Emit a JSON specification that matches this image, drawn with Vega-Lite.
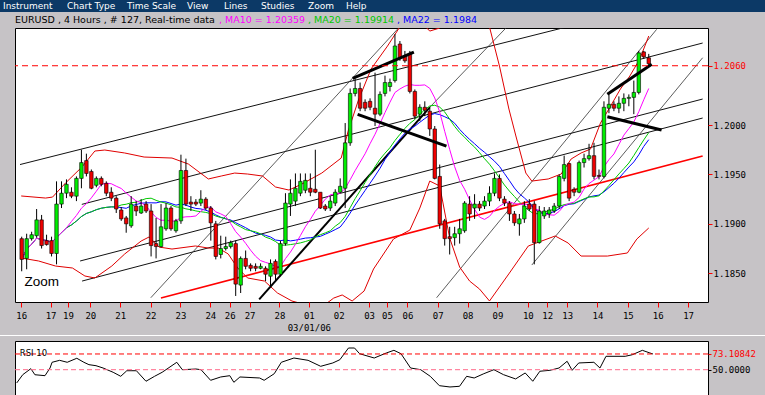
{
  "$schema": "https://vega.github.io/schema/vega-lite/v6.json",
  "background": "#c6c3c6",
  "padding": {"left": 0, "top": 0, "right": 0, "bottom": 3},
  "spacing": 0,
  "config": {"view": {"stroke": null}, "concat": {"spacing": 0}},
  "datasets": {
    "menu": [
      {"item": "Instrument", "n": 0}, {"item": "Chart Type", "n": 1}, {"item": "Time Scale", "n": 2}, {"item": "View", "n": 3},
      {"item": "Lines", "n": 4}, {"item": "Studies", "n": 5}, {"item": "Zoom", "n": 6}, {"item": "Help", "n": 7}
    ],
    "header": [
      {"part": "info", "label": "EURUSD , 4 Hours , # 127, Real-time data"},
      {"part": "MA10", "label": ", MA10 = 1.20359"},
      {"part": "MA20", "label": ", MA20 = 1.19914"},
      {"part": "MA22", "label": ", MA22 = 1.1984"}
    ],
    "levels": [
      {"panel": "price", "level": 1.206},
      {"panel": "rsi", "level": 73.10842},
      {"panel": "rsi", "level": 50}
    ],
    "candles": [
      {"i":0,"open":1.1885,"high":1.1887,"low":1.1852,"close":1.1864},
      {"i":1,"open":1.1865,"high":1.1890,"low":1.1854,"close":1.1885},
      {"i":2,"open":1.1885,"high":1.1892,"low":1.1883,"close":1.1889},
      {"i":3,"open":1.1888,"high":1.1915,"low":1.1886,"close":1.1904},
      {"i":4,"open":1.1904,"high":1.1909,"low":1.1875,"close":1.1878},
      {"i":5,"open":1.1883,"high":1.1889,"low":1.1878,"close":1.1879},
      {"i":6,"open":1.1883,"high":1.1887,"low":1.1867,"close":1.1870},
      {"i":7,"open":1.1870,"high":1.1943,"low":1.1859,"close":1.1920},
      {"i":8,"open":1.1920,"high":1.1943,"low":1.1916,"close":1.1931},
      {"i":9,"open":1.1931,"high":1.1945,"low":1.1926,"close":1.1940},
      {"i":10,"open":1.1932,"high":1.1937,"low":1.1926,"close":1.1928},
      {"i":11,"open":1.1928,"high":1.1948,"low":1.1923,"close":1.1946},
      {"i":12,"open":1.1946,"high":1.1975,"low":1.1936,"close":1.1962},
      {"i":13,"open":1.1964,"high":1.1971,"low":1.1948,"close":1.1951},
      {"i":14,"open":1.1953,"high":1.1955,"low":1.1935,"close":1.1936},
      {"i":15,"open":1.1939,"high":1.1948,"low":1.1937,"close":1.1946},
      {"i":16,"open":1.1946,"high":1.1948,"low":1.1938,"close":1.1940},
      {"i":17,"open":1.1941,"high":1.1943,"low":1.1928,"close":1.1931},
      {"i":18,"open":1.1932,"high":1.1937,"low":1.1923,"close":1.1926},
      {"i":19,"open":1.1926,"high":1.1928,"low":1.1911,"close":1.1915},
      {"i":20,"open":1.1914,"high":1.1917,"low":1.1903,"close":1.1905},
      {"i":21,"open":1.1906,"high":1.1908,"low":1.1891,"close":1.1900},
      {"i":22,"open":1.1898,"high":1.1928,"low":1.1896,"close":1.1920},
      {"i":23,"open":1.1918,"high":1.1923,"low":1.1908,"close":1.1913},
      {"i":24,"open":1.1911,"high":1.1925,"low":1.1910,"close":1.1918},
      {"i":25,"open":1.1920,"high":1.1923,"low":1.1911,"close":1.1913},
      {"i":26,"open":1.1913,"high":1.1920,"low":1.1867,"close":1.1878},
      {"i":27,"open":1.1880,"high":1.1906,"low":1.1865,"close":1.1877},
      {"i":28,"open":1.1877,"high":1.1920,"low":1.1876,"close":1.1897},
      {"i":29,"open":1.1895,"high":1.1921,"low":1.1893,"close":1.1916},
      {"i":30,"open":1.1916,"high":1.1918,"low":1.1893,"close":1.1895},
      {"i":31,"open":1.1893,"high":1.1905,"low":1.1891,"close":1.1903},
      {"i":32,"open":1.1903,"high":1.1970,"low":1.1900,"close":1.1954},
      {"i":33,"open":1.1954,"high":1.1966,"low":1.1918,"close":1.1920},
      {"i":34,"open":1.1922,"high":1.1928,"low":1.1913,"close":1.1920},
      {"i":35,"open":1.1922,"high":1.1925,"low":1.1918,"close":1.1920},
      {"i":36,"open":1.1921,"high":1.1934,"low":1.1918,"close":1.1925},
      {"i":37,"open":1.1925,"high":1.1927,"low":1.1914,"close":1.1916},
      {"i":38,"open":1.1916,"high":1.1918,"low":1.1883,"close":1.1901},
      {"i":39,"open":1.1900,"high":1.1903,"low":1.1864,"close":1.1867},
      {"i":40,"open":1.1869,"high":1.1888,"low":1.1865,"close":1.1875},
      {"i":41,"open":1.1875,"high":1.1887,"low":1.1873,"close":1.1877},
      {"i":42,"open":1.1877,"high":1.1883,"low":1.1875,"close":1.1881},
      {"i":43,"open":1.1880,"high":1.1883,"low":1.1827,"close":1.1839},
      {"i":44,"open":1.1838,"high":1.1867,"low":1.1830,"close":1.1865},
      {"i":45,"open":1.1865,"high":1.1873,"low":1.1854,"close":1.1857},
      {"i":46,"open":1.1858,"high":1.1860,"low":1.1852,"close":1.1855},
      {"i":47,"open":1.1857,"high":1.1860,"low":1.1852,"close":1.1855},
      {"i":48,"open":1.1855,"high":1.1860,"low":1.1854,"close":1.1857},
      {"i":49,"open":1.1855,"high":1.1857,"low":1.1842,"close":1.1849},
      {"i":50,"open":1.1847,"high":1.1864,"low":1.1837,"close":1.1860},
      {"i":51,"open":1.1862,"high":1.1864,"low":1.1842,"close":1.1849},
      {"i":52,"open":1.1849,"high":1.1883,"low":1.1847,"close":1.1880},
      {"i":53,"open":1.1880,"high":1.1931,"low":1.1878,"close":1.1921},
      {"i":54,"open":1.1920,"high":1.1945,"low":1.1908,"close":1.1931},
      {"i":55,"open":1.1923,"high":1.1951,"low":1.1918,"close":1.1936},
      {"i":56,"open":1.1931,"high":1.1951,"low":1.1928,"close":1.1943},
      {"i":57,"open":1.1934,"high":1.1951,"low":1.1931,"close":1.1944},
      {"i":58,"open":1.1936,"high":1.1951,"low":1.1928,"close":1.1932},
      {"i":59,"open":1.1935,"high":1.1975,"low":1.1931,"close":1.1932},
      {"i":60,"open":1.1932,"high":1.1932,"low":1.1915,"close":1.1916},
      {"i":61,"open":1.1918,"high":1.1920,"low":1.1913,"close":1.1915},
      {"i":62,"open":1.1916,"high":1.1928,"low":1.1913,"close":1.1923},
      {"i":63,"open":1.1921,"high":1.1935,"low":1.1918,"close":1.1932},
      {"i":64,"open":1.1932,"high":1.1946,"low":1.1931,"close":1.1938},
      {"i":65,"open":1.1936,"high":1.2002,"low":1.1916,"close":1.1982},
      {"i":66,"open":1.1982,"high":1.2037,"low":1.1979,"close":1.2032},
      {"i":67,"open":1.2032,"high":1.2047,"low":1.2029,"close":1.2037},
      {"i":68,"open":1.2037,"high":1.2043,"low":1.2014,"close":1.2017},
      {"i":69,"open":1.2023,"high":1.2026,"low":1.2014,"close":1.2017},
      {"i":70,"open":1.2024,"high":1.2027,"low":1.2015,"close":1.2018},
      {"i":71,"open":1.2017,"high":1.2053,"low":1.1999,"close":1.2011},
      {"i":72,"open":1.2011,"high":1.2034,"low":1.2009,"close":1.2031},
      {"i":73,"open":1.2032,"high":1.2050,"low":1.2029,"close":1.2043},
      {"i":74,"open":1.2039,"high":1.2047,"low":1.2034,"close":1.2043},
      {"i":75,"open":1.2045,"high":1.2092,"low":1.2043,"close":1.2080},
      {"i":76,"open":1.2082,"high":1.2085,"low":1.2065,"close":1.2068},
      {"i":77,"open":1.2070,"high":1.2075,"low":1.2063,"close":1.2065},
      {"i":78,"open":1.2072,"high":1.2075,"low":1.2032,"close":1.2034},
      {"i":79,"open":1.2034,"high":1.2036,"low":1.2006,"close":1.2009},
      {"i":80,"open":1.2011,"high":1.2021,"low":1.2004,"close":1.2018},
      {"i":81,"open":1.2018,"high":1.2024,"low":1.2009,"close":1.2015},
      {"i":82,"open":1.2014,"high":1.2017,"low":1.1989,"close":1.1996},
      {"i":83,"open":1.1996,"high":1.1999,"low":1.1945,"close":1.1946},
      {"i":84,"open":1.1948,"high":1.1960,"low":1.1895,"close":1.1900},
      {"i":85,"open":1.1903,"high":1.1905,"low":1.1878,"close":1.1885},
      {"i":86,"open":1.1887,"high":1.1897,"low":1.1869,"close":1.1885},
      {"i":87,"open":1.1886,"high":1.1897,"low":1.1878,"close":1.1890},
      {"i":88,"open":1.1890,"high":1.1905,"low":1.1880,"close":1.1895},
      {"i":89,"open":1.1893,"high":1.1923,"low":1.1891,"close":1.1921},
      {"i":90,"open":1.1920,"high":1.1928,"low":1.1903,"close":1.1910},
      {"i":91,"open":1.1916,"high":1.1930,"low":1.1905,"close":1.1920},
      {"i":92,"open":1.1920,"high":1.1923,"low":1.1913,"close":1.1916},
      {"i":93,"open":1.1918,"high":1.1928,"low":1.1915,"close":1.1923},
      {"i":94,"open":1.1923,"high":1.1938,"low":1.1918,"close":1.1931},
      {"i":95,"open":1.1931,"high":1.1951,"low":1.1928,"close":1.1946},
      {"i":96,"open":1.1946,"high":1.1950,"low":1.1923,"close":1.1926},
      {"i":97,"open":1.1925,"high":1.1928,"low":1.1918,"close":1.1921},
      {"i":98,"open":1.1921,"high":1.1923,"low":1.1903,"close":1.1910},
      {"i":99,"open":1.1910,"high":1.1913,"low":1.1898,"close":1.1901},
      {"i":100,"open":1.1900,"high":1.1910,"low":1.1888,"close":1.1905},
      {"i":101,"open":1.1905,"high":1.1923,"low":1.1901,"close":1.1918},
      {"i":102,"open":1.1920,"high":1.1925,"low":1.1913,"close":1.1915},
      {"i":103,"open":1.1920,"high":1.1923,"low":1.1859,"close":1.1881},
      {"i":104,"open":1.1881,"high":1.1918,"low":1.1880,"close":1.1913},
      {"i":105,"open":1.1908,"high":1.1917,"low":1.1905,"close":1.1913},
      {"i":106,"open":1.1910,"high":1.1917,"low":1.1906,"close":1.1914},
      {"i":107,"open":1.1913,"high":1.1921,"low":1.1911,"close":1.1918},
      {"i":108,"open":1.1918,"high":1.1950,"low":1.1915,"close":1.1948},
      {"i":109,"open":1.1946,"high":1.1969,"low":1.1943,"close":1.1960},
      {"i":110,"open":1.1961,"high":1.1962,"low":1.1923,"close":1.1926},
      {"i":111,"open":1.1935,"high":1.1937,"low":1.1928,"close":1.1932},
      {"i":112,"open":1.1932,"high":1.1964,"low":1.1931,"close":1.1962},
      {"i":113,"open":1.1962,"high":1.1971,"low":1.1957,"close":1.1966},
      {"i":114,"open":1.1966,"high":1.1981,"low":1.1964,"close":1.1969},
      {"i":115,"open":1.1969,"high":1.1982,"low":1.1945,"close":1.1948},
      {"i":116,"open":1.1949,"high":1.1955,"low":1.1945,"close":1.1948},
      {"i":117,"open":1.1948,"high":1.2024,"low":1.1946,"close":1.2018},
      {"i":118,"open":1.2017,"high":1.2031,"low":1.2012,"close":1.2021},
      {"i":119,"open":1.2021,"high":1.2024,"low":1.2014,"close":1.2017},
      {"i":120,"open":1.2017,"high":1.2029,"low":1.2012,"close":1.2022},
      {"i":121,"open":1.2022,"high":1.2032,"low":1.2014,"close":1.2027},
      {"i":122,"open":1.2027,"high":1.2031,"low":1.2019,"close":1.2028},
      {"i":123,"open":1.2028,"high":1.2045,"low":1.2011,"close":1.2033},
      {"i":124,"open":1.2033,"high":1.2075,"low":1.2031,"close":1.2073},
      {"i":125,"open":1.2074,"high":1.2075,"low":1.2067,"close":1.2069},
      {"i":126,"open":1.2068,"high":1.2072,"low":1.2060,"close":1.2062}
    ],
    "bands": [
      {"band":"upper","i":-0.1,"price":1.19282},{"band":"upper","i":4.8,"price":1.19261},{"band":"upper","i":6.2,"price":1.19271},
      {"band":"upper","i":8.8,"price":1.19413},{"band":"upper","i":12.1,"price":1.19575},{"band":"upper","i":14.7,"price":1.19737},
      {"band":"upper","i":16.7,"price":1.19747},{"band":"upper","i":20.7,"price":1.19717},{"band":"upper","i":24.6,"price":1.19676},
      {"band":"upper","i":30.2,"price":1.19666},{"band":"upper","i":33.5,"price":1.19605},{"band":"upper","i":37.5,"price":1.19454},
      {"band":"upper","i":40.1,"price":1.19484},{"band":"upper","i":42.8,"price":1.19514},{"band":"upper","i":45.4,"price":1.19504},
      {"band":"upper","i":48.4,"price":1.19484},{"band":"upper","i":51,"price":1.19373},{"band":"upper","i":53.7,"price":1.19342},
      {"band":"upper","i":56.3,"price":1.19403},{"band":"upper","i":60.3,"price":1.19514},{"band":"upper","i":64.2,"price":1.19666},
      {"band":"upper","i":65.6,"price":1.19939},{"band":"upper","i":67.6,"price":1.20243},{"band":"upper","i":70.2,"price":1.20567},
      {"band":"upper","i":73.5,"price":1.20799},{"band":"upper","i":76.1,"price":1.21002},{"band":"upper","i":78.1,"price":1.21093},
      {"band":"upper","i":80,"price":1.21052},{"band":"upper","i":82,"price":1.20951},{"band":"upper","i":84,"price":1.20982},
      {"band":"upper","i":86,"price":1.2125},{"band":"upper","i":88,"price":1.2128},{"band":"upper","i":91,"price":1.2125},
      {"band":"upper","i":94,"price":1.20992},{"band":"upper","i":96,"price":1.20597},{"band":"upper","i":97.9,"price":1.20162},
      {"band":"upper","i":99.3,"price":1.19889},{"band":"upper","i":101.3,"price":1.19514},{"band":"upper","i":102.5,"price":1.19433},
      {"band":"upper","i":105.8,"price":1.19454},{"band":"upper","i":108.4,"price":1.19504},{"band":"upper","i":110.4,"price":1.19656},
      {"band":"upper","i":112.4,"price":1.19717},{"band":"upper","i":114.3,"price":1.19757},{"band":"upper","i":116.3,"price":1.2002},
      {"band":"upper","i":118.1,"price":1.20172},{"band":"upper","i":120.3,"price":1.20364},{"band":"upper","i":122.2,"price":1.20496},
      {"band":"upper","i":124.2,"price":1.20668},{"band":"upper","i":126,"price":1.20901},
      {"band":"lower","i":-0.1,"price":1.18654},{"band":"lower","i":3.4,"price":1.18624},{"band":"lower","i":6.8,"price":1.18573},
      {"band":"lower","i":10.2,"price":1.18553},{"band":"lower","i":12.7,"price":1.18472},{"band":"lower","i":14.7,"price":1.18452},
      {"band":"lower","i":18.1,"price":1.18573},{"band":"lower","i":20.7,"price":1.18695},{"band":"lower","i":24,"price":1.18826},
      {"band":"lower","i":25.6,"price":1.18867},{"band":"lower","i":27.6,"price":1.18765},{"band":"lower","i":30.2,"price":1.18745},
      {"band":"lower","i":34.9,"price":1.18776},{"band":"lower","i":37.5,"price":1.18755},{"band":"lower","i":39.5,"price":1.18755},
      {"band":"lower","i":41.5,"price":1.18695},{"band":"lower","i":43.4,"price":1.18553},{"band":"lower","i":45.4,"price":1.18452},
      {"band":"lower","i":48.8,"price":1.18421},{"band":"lower","i":51.4,"price":1.183},{"band":"lower","i":54.3,"price":1.18219},
      {"band":"lower","i":57.3,"price":1.18178},{"band":"lower","i":60.3,"price":1.18158},{"band":"lower","i":62.7,"price":1.18249},
      {"band":"lower","i":64.4,"price":1.1828},{"band":"lower","i":66.4,"price":1.18219},{"band":"lower","i":68.8,"price":1.1832},
      {"band":"lower","i":70.7,"price":1.18543},{"band":"lower","i":74.7,"price":1.18846},{"band":"lower","i":78,"price":1.18937},
      {"band":"lower","i":80,"price":1.1916},{"band":"lower","i":82,"price":1.19433},{"band":"lower","i":84,"price":1.19383},
      {"band":"lower","i":86,"price":1.18856},{"band":"lower","i":88,"price":1.18563},{"band":"lower","i":90,"price":1.18421},
      {"band":"lower","i":92,"price":1.1834},{"band":"lower","i":94,"price":1.18219},{"band":"lower","i":98,"price":1.18502},
      {"band":"lower","i":101.8,"price":1.18776},{"band":"lower","i":107.2,"price":1.18877},{"band":"lower","i":109.8,"price":1.18806},
      {"band":"lower","i":112.4,"price":1.18674},{"band":"lower","i":117.7,"price":1.18674},{"band":"lower","i":121.7,"price":1.18705},
      {"band":"lower","i":123.6,"price":1.18846},{"band":"lower","i":126,"price":1.18958}
    ],
    "lines": [
      {"name":"L1","group":"channel","i":-0.34,"price":1.196},{"name":"L1","group":"channel","i":136.99,"price":1.21341},
      {"name":"L2","group":"channel","i":12.08,"price":1.19197},{"name":"L2","group":"channel","i":136.83,"price":1.2083},
      {"name":"L3","group":"channel","i":11.74,"price":1.18624},{"name":"L3","group":"channel","i":136.83,"price":1.20263},
      {"name":"L4","group":"channel","i":12.14,"price":1.18421},{"name":"L4","group":"channel","i":136.83,"price":1.20071},
      {"name":"R1","group":"trend","i":27.98,"price":1.18249},{"name":"R1","group":"trend","i":136.83,"price":1.19686},
      {"name":"A","group":"fan","i":25.94,"price":1.18252},{"name":"A","group":"fan","i":76.1,"price":1.21002},
      {"name":"B2","group":"fan","i":82.04,"price":1.20182},{"name":"B2","group":"fan","i":97.68,"price":1.21002},
      {"name":"C","group":"fan","i":83.37,"price":1.18252},{"name":"C","group":"fan","i":127.58,"price":1.20968},
      {"name":"D","group":"fan","i":102.5,"price":1.18583},{"name":"D","group":"fan","i":136.83,"price":1.20681},
      {"name":"B1","group":"support","i":47.72,"price":1.18236},{"name":"B1","group":"support","i":82.04,"price":1.20182},
      {"name":"P1","group":"pattern","i":66.5,"price":1.20473},{"name":"P1","group":"pattern","i":78.8,"price":1.20739},
      {"name":"P2","group":"pattern","i":67.5,"price":1.20108},{"name":"P2","group":"pattern","i":85.35,"price":1.19787},
      {"name":"P3","group":"pattern","i":117.68,"price":1.20311},{"name":"P3","group":"pattern","i":126.6,"price":1.20614},
      {"name":"P4","group":"pattern","i":117.68,"price":1.20084},{"name":"P4","group":"pattern","i":128.57,"price":1.19949}
    ],
    "rsi": [
      {"i":0,"rsi":30.5},{"i":1.2,"rsi":42.7},{"i":2.8,"rsi":51.5},{"i":3.6,"rsi":42.6},{"i":5.6,"rsi":41.2},{"i":6.6,"rsi":52.5},
      {"i":7,"rsi":60.9},{"i":8.5,"rsi":63.8},{"i":10,"rsi":60.9},{"i":11.9,"rsi":66.8},{"i":13.3,"rsi":60.9},{"i":14.3,"rsi":57.4},
      {"i":15.7,"rsi":55.9},{"i":17.1,"rsi":52.5},{"i":19.1,"rsi":46.2},{"i":20.6,"rsi":40.3},{"i":21.8,"rsi":48.5},{"i":23.7,"rsi":48.5},
      {"i":25.6,"rsi":33},{"i":27.3,"rsi":40.3},{"i":28.8,"rsi":46.2},{"i":31.7,"rsi":60.9},{"i":32.8,"rsi":50},{"i":35.5,"rsi":51},
      {"i":36.5,"rsi":50},{"i":38.4,"rsi":34.4},{"i":40.4,"rsi":39.3},{"i":42.2,"rsi":41.2},{"i":43,"rsi":31.5},{"i":44.2,"rsi":39.3},
      {"i":48.1,"rsi":37.8},{"i":49,"rsi":34.4},{"i":51,"rsi":44.1},{"i":52.4,"rsi":60.9},{"i":54.9,"rsi":67.2},{"i":57.7,"rsi":63.8},
      {"i":60.2,"rsi":55},{"i":62.6,"rsi":59.9},{"i":64,"rsi":64.7},{"i":65.7,"rsi":81.9},{"i":66.9,"rsi":81.9},{"i":67.9,"rsi":73.5},
      {"i":70.8,"rsi":67.2},{"i":73.2,"rsi":74.6},{"i":74.7,"rsi":78.5},{"i":76.1,"rsi":73.5},{"i":78,"rsi":52.5},{"i":80,"rsi":50},
      {"i":81.9,"rsi":40.3},{"i":83.7,"rsi":26.5},{"i":85.8,"rsi":24.6},{"i":87.7,"rsi":25.6},{"i":89.1,"rsi":40.3},{"i":90.6,"rsi":37.8},
      {"i":92.5,"rsi":44.1},{"i":94.5,"rsi":50},{"i":96.4,"rsi":42.7},{"i":98.8,"rsi":36.4},{"i":100.7,"rsi":45.2},{"i":102.2,"rsi":33},
      {"i":103.6,"rsi":47.7},{"i":105.6,"rsi":49.1},{"i":107.4,"rsi":52.5},{"i":109,"rsi":62.4},{"i":110,"rsi":49.1},{"i":111.3,"rsi":59.9},
      {"i":114.3,"rsi":60.9},{"i":115.5,"rsi":52.5},{"i":116.7,"rsi":69.7},{"i":120.5,"rsi":69.7},{"i":121.9,"rsi":72},{"i":123.9,"rsi":78.5},
      {"i":125.4,"rsi":74.6},{"i":126,"rsi":73.1}
    ]
  },
  "vconcat": [
    {
      "hconcat": [
        {"width": 67, "height": 12, "view": {"fill": "#0c3966", "stroke": null}, "data": {"name": "menu"}, "transform": [{"filter": "datum.n == 0"}],
         "mark": {"type": "text", "align": "left", "baseline": "middle", "dx": 3, "font": "DejaVu Sans", "fontSize": 9, "color": "#ffffff"},
         "encoding": {"x": {"datum": 0, "type": "quantitative", "scale": {"domain": [0, 1]}, "axis": null}, "text": {"field": "item"}}},
        {"width": 60, "height": 12, "view": {"fill": "#0c3966", "stroke": null}, "data": {"name": "menu"}, "transform": [{"filter": "datum.n == 1"}],
         "mark": {"type": "text", "align": "left", "baseline": "middle", "font": "DejaVu Sans", "fontSize": 9, "color": "#ffffff"},
         "encoding": {"x": {"datum": 0, "type": "quantitative", "scale": {"domain": [0, 1]}, "axis": null}, "text": {"field": "item"}}},
        {"width": 60, "height": 12, "view": {"fill": "#0c3966", "stroke": null}, "data": {"name": "menu"}, "transform": [{"filter": "datum.n == 2"}],
         "mark": {"type": "text", "align": "left", "baseline": "middle", "font": "DejaVu Sans", "fontSize": 9, "color": "#ffffff"},
         "encoding": {"x": {"datum": 0, "type": "quantitative", "scale": {"domain": [0, 1]}, "axis": null}, "text": {"field": "item"}}},
        {"width": 37, "height": 12, "view": {"fill": "#0c3966", "stroke": null}, "data": {"name": "menu"}, "transform": [{"filter": "datum.n == 3"}],
         "mark": {"type": "text", "align": "left", "baseline": "middle", "font": "DejaVu Sans", "fontSize": 9, "color": "#ffffff"},
         "encoding": {"x": {"datum": 0, "type": "quantitative", "scale": {"domain": [0, 1]}, "axis": null}, "text": {"field": "item"}}},
        {"width": 37, "height": 12, "view": {"fill": "#0c3966", "stroke": null}, "data": {"name": "menu"}, "transform": [{"filter": "datum.n == 4"}],
         "mark": {"type": "text", "align": "left", "baseline": "middle", "font": "DejaVu Sans", "fontSize": 9, "color": "#ffffff"},
         "encoding": {"x": {"datum": 0, "type": "quantitative", "scale": {"domain": [0, 1]}, "axis": null}, "text": {"field": "item"}}},
        {"width": 47, "height": 12, "view": {"fill": "#0c3966", "stroke": null}, "data": {"name": "menu"}, "transform": [{"filter": "datum.n == 5"}],
         "mark": {"type": "text", "align": "left", "baseline": "middle", "font": "DejaVu Sans", "fontSize": 9, "color": "#ffffff"},
         "encoding": {"x": {"datum": 0, "type": "quantitative", "scale": {"domain": [0, 1]}, "axis": null}, "text": {"field": "item"}}},
        {"width": 38, "height": 12, "view": {"fill": "#0c3966", "stroke": null}, "data": {"name": "menu"}, "transform": [{"filter": "datum.n == 6"}],
         "mark": {"type": "text", "align": "left", "baseline": "middle", "font": "DejaVu Sans", "fontSize": 9, "color": "#ffffff"},
         "encoding": {"x": {"datum": 0, "type": "quantitative", "scale": {"domain": [0, 1]}, "axis": null}, "text": {"field": "item"}}},
        {"width": 419, "height": 12, "view": {"fill": "#0c3966", "stroke": null}, "data": {"name": "menu"}, "transform": [{"filter": "datum.n == 7"}],
         "mark": {"type": "text", "align": "left", "baseline": "middle", "font": "DejaVu Sans", "fontSize": 9, "color": "#ffffff"},
         "encoding": {"x": {"datum": 0, "type": "quantitative", "scale": {"domain": [0, 1]}, "axis": null}, "text": {"field": "item"}}}
      ],
      "spacing": 0,
      "bounds": "flush"
    },
    {
      "hconcat": [
        {"width": 219, "height": 15, "data": {"name": "header"}, "transform": [{"filter": "datum.part == 'info'"}],
         "mark": {"type": "text", "align": "left", "baseline": "middle", "dx": 15, "font": "DejaVu Sans", "fontSize": 9.5, "color": "#000000"},
         "encoding": {"x": {"datum": 0, "type": "quantitative", "scale": {"domain": [0, 1]}, "axis": null}, "text": {"field": "label"}}},
        {"width": 89, "height": 15, "data": {"name": "header"}, "transform": [{"filter": "datum.part == 'MA10'"}],
         "mark": {"type": "text", "align": "left", "baseline": "middle", "font": "DejaVu Sans", "fontSize": 9.5, "color": "#ff00ff"},
         "encoding": {"x": {"datum": 0, "type": "quantitative", "scale": {"domain": [0, 1]}, "axis": null}, "text": {"field": "label"}}},
        {"width": 89, "height": 15, "data": {"name": "header"}, "transform": [{"filter": "datum.part == 'MA20'"}],
         "mark": {"type": "text", "align": "left", "baseline": "middle", "font": "DejaVu Sans", "fontSize": 9.5, "color": "#00c800"},
         "encoding": {"x": {"datum": 0, "type": "quantitative", "scale": {"domain": [0, 1]}, "axis": null}, "text": {"field": "label"}}},
        {"width": 368, "height": 15, "data": {"name": "header"}, "transform": [{"filter": "datum.part == 'MA22'"}],
         "mark": {"type": "text", "align": "left", "baseline": "middle", "font": "DejaVu Sans", "fontSize": 9.5, "color": "#0000ff"},
         "encoding": {"x": {"datum": 0, "type": "quantitative", "scale": {"domain": [0, 1]}, "axis": null}, "text": {"field": "label"}}}
      ],
      "spacing": 0,
      "bounds": "flush"
    },
    {
      "hconcat": [
        {"width": 14, "height": 274, "data": {"values": []}, "mark": "point", "encoding": {}},
        {
          "width": 693, "height": 274,
          "view": {"fill": "#ffffff", "stroke": "#000000", "strokeWidth": 1},
          "layer": [
            {
              "data": {"name": "lines"},
              "transform": [{"filter": "datum.group == 'channel'"}],
              "mark": {"type": "line", "color": "#111111", "strokeWidth": 1, "clip": true},
              "encoding": {
                "x": {"field": "i", "type": "quantitative", "scale": {"domain": [-0.34, 136.9], "nice": false, "zero": false},
                      "axis": {"values": [-0.1,5.8,9.3,13.8,19.8,25.9,31.9,37.9,41.8,45.8,51.8,57.7,63.7,69.8,73.4,77.5,83.6,89.6,95.6,101.7,105.6,109.6,115.7,121.8,127.8,133.9],
                               "tickCount": 200,
                               "labelExpr": "datum.value == 57.7 ? ['01', '03/01/06'] : ['16','17','19','20','21','22','23','24','26','27','28','01','02','03','05','06','07','08','09','10','12','13','14','15','16','17'][indexof([-0.1,5.8,9.3,13.8,19.8,25.9,31.9,37.9,41.8,45.8,51.8,57.7,63.7,69.8,73.4,77.5,83.6,89.6,95.6,101.7,105.6,109.6,115.7,121.8,127.8,133.9], datum.value)]",
                               "title": null, "domain": false, "grid": false, "tickColor": "#ff0000", "tickSize": 5,
                               "labelFont": "DejaVu Sans Mono", "labelFontSize": 9, "labelColor": "#000000", "labelPadding": 4,
                               "labelBaseline": "top", "labelLineHeight": 12, "labelFlush": false, "labelOverlap": false,
                               "minExtent": 32, "maxExtent": 32}},
                "y": {"field": "price", "type": "quantitative", "scale": {"domain": [1.18209, 1.20982], "nice": false, "zero": false},
                      "axis": {"orient": "right", "values": [1.185, 1.19, 1.195, 1.2, 1.206], "tickCount": 20, "format": ".4f", "title": null,
                               "domain": false, "grid": false, "tickColor": "#ff0000", "tickSize": 4,
                               "labelFont": "DejaVu Sans Mono", "labelFontSize": 9, "labelPadding": 1,
                               "labelColor": {"condition": {"test": "datum.value > 1.205", "value": "#ff0000"}, "value": "#000000"}}},
                "detail": {"field": "name"}
              }
            },
            {
              "data": {"name": "lines"},
              "transform": [{"filter": "datum.group == 'fan'"}],
              "mark": {"type": "line", "color": "#333333", "strokeWidth": 0.8, "clip": true},
              "encoding": {
                "x": {"field": "i", "type": "quantitative"},
                "y": {"field": "price", "type": "quantitative"},
                "detail": {"field": "name"}
              }
            },
            {
              "data": {"name": "bands"},
              "mark": {"type": "line", "color": "#e00000", "strokeWidth": 1, "clip": true},
              "encoding": {
                "x": {"field": "i", "type": "quantitative"},
                "y": {"field": "price", "type": "quantitative"},
                "detail": {"field": "band"}
              }
            },
            {
              "data": {"name": "lines"},
              "transform": [{"filter": "datum.group == 'trend'"}],
              "mark": {"type": "line", "color": "#ff0000", "strokeWidth": 1.6, "clip": true},
              "encoding": {
                "x": {"field": "i", "type": "quantitative"},
                "y": {"field": "price", "type": "quantitative"},
                "detail": {"field": "name"}
              }
            },
            {
              "data": {"name": "lines"},
              "transform": [{"filter": "datum.group == 'support'"}],
              "mark": {"type": "line", "color": "#000000", "strokeWidth": 2, "clip": true},
              "encoding": {
                "x": {"field": "i", "type": "quantitative"},
                "y": {"field": "price", "type": "quantitative"},
                "detail": {"field": "name"}
              }
            },
            {
              "data": {"name": "candles"},
              "transform": [
                {"window": [{"op": "mean", "field": "close", "as": "MA10"}], "frame": [-9, 0], "sort": [{"field": "i"}]},
                {"window": [{"op": "mean", "field": "close", "as": "MA20"}], "frame": [-19, 0], "sort": [{"field": "i"}]},
                {"window": [{"op": "mean", "field": "close", "as": "MA22"}], "frame": [-21, 0], "sort": [{"field": "i"}]},
                {"fold": ["MA22", "MA20", "MA10"], "as": ["series", "value"]}
              ],
              "mark": {"type": "line", "strokeWidth": 1, "clip": true},
              "encoding": {
                "x": {"field": "i", "type": "quantitative"},
                "y": {"field": "value", "type": "quantitative"},
                "color": {"field": "series", "type": "nominal", "scale": {"domain": ["MA10","MA20","MA22"], "range": ["#ff00ff","#00c800","#0000ff"]}, "legend": null}
              }
            },
            {
              "data": {"name": "candles"},
              "mark": {"type": "rule", "color": "#000000", "strokeWidth": 1},
              "encoding": {
                "x": {"field": "i", "type": "quantitative"},
                "y": {"field": "low", "type": "quantitative"},
                "y2": {"field": "high"}
              }
            },
            {
              "data": {"name": "candles"},
              "mark": {"type": "bar", "size": 3.5, "stroke": "#000000", "strokeWidth": 0.6},
              "encoding": {
                "x": {"field": "i", "type": "quantitative"},
                "y": {"field": "open", "type": "quantitative"},
                "y2": {"field": "close"},
                "fill": {"condition": {"test": "datum.close >= datum.open", "value": "#00ee00"}, "value": "#ee0000"}
              }
            },
            {
              "data": {"name": "lines"},
              "transform": [{"filter": "datum.group == 'pattern'"}],
              "mark": {"type": "line", "color": "#000000", "strokeWidth": 3, "clip": true},
              "encoding": {
                "x": {"field": "i", "type": "quantitative"},
                "y": {"field": "price", "type": "quantitative"},
                "detail": {"field": "name"}
              }
            },
            {
              "data": {"name": "levels"},
              "transform": [{"filter": "datum.panel == 'price'"}],
              "mark": {"type": "rule", "color": "#ff0000", "strokeWidth": 1, "strokeDash": [6, 4]},
              "encoding": {
                "y": {"field": "level", "type": "quantitative"}
              }
            },
            {
              "data": {"values": [{"label": "Zoom"}]},
              "mark": {"type": "text", "align": "left", "baseline": "middle", "font": "Liberation Sans", "fontSize": 13.5, "color": "#000000"},
              "encoding": {
                "x": {"datum": 0.55, "type": "quantitative"},
                "y": {"datum": 1.1841, "type": "quantitative"},
                "text": {"field": "label"}
              }
            }
          ]
        }
      ],
      "spacing": 0
    },
    {"width": 765, "height": 1, "view": {"fill": "#ffffff", "stroke": null}, "data": {"values": []}, "mark": "point", "encoding": {}},
    {"width": 765, "height": 4, "data": {"values": []}, "mark": "point", "encoding": {}},
    {
      "hconcat": [
        {"width": 14, "height": 54, "data": {"values": []}, "mark": "point", "encoding": {}},
        {
          "width": 693, "height": 54,
          "view": {"fill": "#ffffff", "stroke": "#000000", "strokeWidth": 1},
          "layer": [
            {
              "data": {"name": "rsi"},
              "mark": {"type": "line", "color": "#000000", "strokeWidth": 1, "clip": true},
              "encoding": {
                "x": {"field": "i", "type": "quantitative", "scale": {"domain": [-0.34, 136.9], "nice": false, "zero": false}, "axis": null},
                "y": {"field": "rsi", "type": "quantitative", "scale": {"domain": [12.8, 92.2], "nice": false, "zero": false},
                      "axis": {"orient": "right", "values": [50, 73.10842], "tickCount": 20, "title": null, "domain": false, "grid": false,
                               "labelExpr": "datum.value > 60 ? '73.10842' : '50.0000'",
                               "tickSize": 3, "tickColor": {"condition": {"test": "datum.value > 60", "value": "#ff0000"}, "value": "#000000"},
                               "labelFont": "DejaVu Sans Mono", "labelFontSize": 9, "labelPadding": 1,
                               "labelColor": {"condition": {"test": "datum.value > 60", "value": "#ff0000"}, "value": "#000000"}}}
              }
            },
            {
              "data": {"name": "levels"},
              "transform": [{"filter": "datum.panel == 'rsi' && datum.level < 60"}],
              "mark": {"type": "rule", "color": "#ff6a8a", "strokeWidth": 1, "strokeDash": [5, 3]},
              "encoding": {
                "y": {"field": "level", "type": "quantitative"}
              }
            },
            {
              "data": {"name": "levels"},
              "transform": [{"filter": "datum.panel == 'rsi' && datum.level > 60"}],
              "mark": {"type": "rule", "color": "#ff0000", "strokeWidth": 1, "strokeDash": [5, 3]},
              "encoding": {
                "y": {"field": "level", "type": "quantitative"}
              }
            },
            {
              "data": {"values": [{"label": "RSI 10"}]},
              "mark": {"type": "text", "align": "left", "baseline": "middle", "font": "DejaVu Sans", "fontSize": 8.5, "color": "#000000"},
              "encoding": {
                "x": {"datum": 0.6, "type": "quantitative"},
                "y": {"datum": 75, "type": "quantitative"},
                "text": {"field": "label"}
              }
            }
          ]
        }
      ],
      "spacing": 0
    }
  ]
}
